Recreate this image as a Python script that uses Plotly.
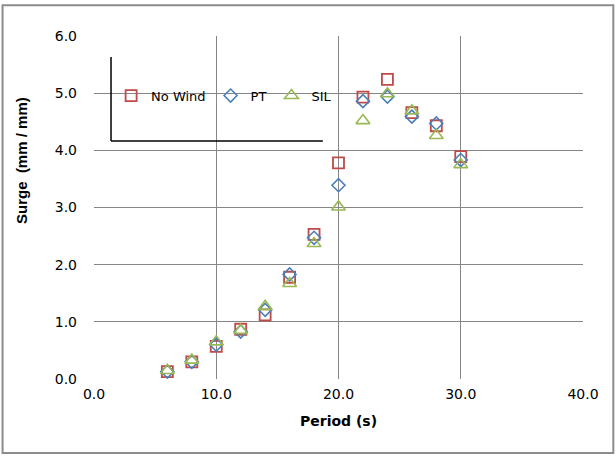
import plotly.graph_objects as go

period = [6, 8, 10, 12, 14, 16, 18, 20, 22, 24, 26, 28, 30]
no_wind = [0.13, 0.30, 0.57, 0.87, 1.12, 1.78, 2.53, 3.78, 4.93, 5.24, 4.66, 4.43, 3.89]
pt = [0.13, 0.30, 0.60, 0.83, 1.21, 1.83, 2.47, 3.39, 4.86, 4.94, 4.59, 4.47, 3.83]
sil = [0.15, 0.33, 0.65, 0.85, 1.27, 1.67, 2.37, 3.01, 4.52, 4.99, 4.69, 4.26, 3.75]

x_ticks = [0, 10, 20, 30, 40]
y_ticks = [0, 1, 2, 3, 4, 5, 6]

RED = "#BE4B48"
BLUE = "#4A7EBB"
GREEN = "#98B954"

fig = go.Figure()
fig.add_trace(go.Scatter(x=period, y=no_wind, mode="markers", name="No Wind",
                         marker=dict(symbol="square-open", size=11, color=RED,
                                     line=dict(width=1.8, color=RED))))
fig.add_trace(go.Scatter(x=period, y=pt, mode="markers", name="PT",
                         marker=dict(symbol="diamond-open", size=10, color=BLUE,
                                     line=dict(width=1.6, color=BLUE))))
fig.add_trace(go.Scatter(x=period, y=sil, mode="markers", name="SIL",
                         marker=dict(symbol="triangle-up-open", size=12, color=GREEN,
                                     line=dict(width=1.6, color=GREEN))))

tick_font = dict(family="DejaVu Sans", size=14, color="#000000")

fig.update_layout(
    width=616, height=456,
    margin=dict(l=94, r=33, t=36, b=77),
    paper_bgcolor="white", plot_bgcolor="white",
    showlegend=True,
    legend=dict(orientation="h", x=0.035, y=0.87, xanchor="left", yanchor="top",
                bgcolor="rgba(0,0,0,0)", font=dict(family="DejaVu Sans", size=13, color="#000"),
                itemwidth=30, tracegroupgap=0),
    xaxis=dict(range=[0, 40], tickvals=x_ticks, ticktext=[f"{v:.1f}" for v in x_ticks],
               showgrid=True, gridcolor="#868686", gridwidth=1, zeroline=False,
               showline=False, ticks="", tickfont=tick_font, ticklabelstandoff=5),
    yaxis=dict(range=[0, 6], tickvals=y_ticks, ticktext=[f"{v:.1f}" for v in y_ticks],
               showgrid=True, gridcolor="#868686", gridwidth=1, zeroline=False,
               showline=False, ticks="", tickfont=tick_font, ticklabelstandoff=16),
    shapes=[
        # hide gridline at right edge
        dict(type="line", xref="x", yref="paper", x0=40, x1=40, y0=-0.01, y1=1.01,
             line=dict(color="white", width=3), layer="between"),
        # legend box background
        dict(type="rect", xref="paper", yref="paper", x0=0.0348, x1=0.468, y0=0.694, y1=0.939,
             fillcolor="white", line=dict(width=0), layer="between"),
        dict(type="line", xref="paper", yref="paper", x0=0.0348, x1=0.0348, y0=0.694, y1=0.939,
             line=dict(color="black", width=1.5), layer="above"),
        dict(type="line", xref="paper", yref="paper", x0=0.0348, x1=0.468, y0=0.694, y1=0.694,
             line=dict(color="black", width=1.5), layer="above"),
        # outer chart border
        dict(type="rect", xref="paper", yref="paper", x0=-0.187, x1=1.062, y0=-0.216, y1=1.090,
             line=dict(color="#8C8C8C", width=2), fillcolor="rgba(0,0,0,0)", layer="above"),
    ],
    annotations=[
        dict(text="<b>Period (s)</b>", xref="paper", yref="paper", x=0.5, y=-0.122,
             xanchor="center", yanchor="middle", showarrow=False,
             font=dict(family="DejaVu Sans", size=14, color="#000")),
        dict(text="<b>Surge  (mm / mm)</b>", xref="paper", yref="paper", x=-0.147, y=0.636,
             xanchor="center", yanchor="middle", showarrow=False, textangle=-90,
             font=dict(family="Liberation Sans Narrow, Liberation Sans", size=15, color="#000")),
    ],
)

fig.write_html("out.html")
